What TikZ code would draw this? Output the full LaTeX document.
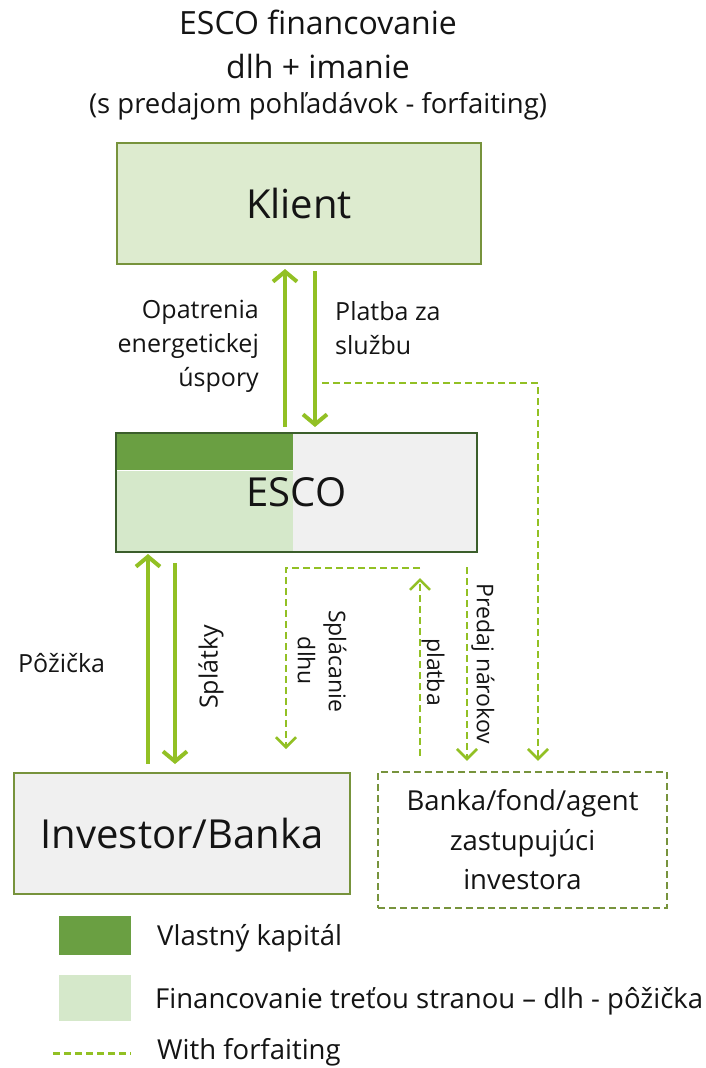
\documentclass[tikz,border=0pt]{standalone}
\usepackage{fontspec}
\setmainfont{Open Sans}
\usetikzlibrary{arrows.meta,calc}
\definecolor{lime}{RGB}{146,192,36}
\definecolor{olive}{RGB}{119,147,60}
\definecolor{darkgreen}{RGB}{59,94,43}
\definecolor{eqdark}{RGB}{106,159,66}
\definecolor{eqlight}{RGB}{213,232,202}
\definecolor{klientfill}{RGB}{221,235,207}
\definecolor{boxgrey}{RGB}{240,240,240}
\definecolor{txt}{RGB}{20,20,20}
\newcommand{\fs}[2]{\fontsize{#1}{#2}\selectfont}
\tikzset{
  bigbox/.style={draw=olive, line width=2pt, minimum width=#1, inner sep=0pt, text=txt, font=\fs{40}{48}},
  bigarrow/.style={draw=lime, line width=4pt, -{Straight Barb[length=10pt,width=24pt,line width=4pt]}},
  dasharrow/.style={draw=lime, line width=2.5pt, dash pattern=on 7pt off 4pt, -{Straight Barb[length=10pt,width=20pt,line width=2.5pt]}},
  dashline/.style={draw=lime, line width=3pt, dash pattern=on 7pt off 4pt},
  lbl/.style={text=txt, font=\fs{25}{34}, inner sep=0pt, align=center},
  rlbl/.style={text=txt, font=\fs{23}{31}, inner sep=0pt, align=center},
  leg/.style={text=txt, font=\fs{27.5}{33}, inner sep=0pt, anchor=west},
}
\begin{document}
\begin{tikzpicture}[x=1pt,y=-1pt]
\useasboundingbox (0,0) rectangle (706,1068);
% title
\node[text=txt, font=\fs{32}{38}, inner sep=0pt] (t1) at (318,22) {ESCO financovanie};
\node[text=txt, font=\fs{32}{38}, inner sep=0pt] (t2) at (318,66) {dlh + imanie};
\node[text=txt, font=\fs{27.5}{33}, inner sep=0pt] (t3) at (318,106) {(s predajom pohľadávok - forfaiting)};
% boxes
\node[bigbox=364pt, minimum height=121pt, fill=klientfill] (klient) at (299,203.5) {Klient};
\node[bigbox=361pt, minimum height=119pt, draw=darkgreen, fill=boxgrey,
  path picture={
    \fill[eqlight] (path picture bounding box.north west) rectangle ([xshift=177pt]path picture bounding box.south west);
    \fill[eqdark] (path picture bounding box.north west) rectangle ([xshift=177pt,yshift=-37pt]path picture bounding box.north west);
    \draw[white, line width=1pt] ([yshift=-37.5pt]path picture bounding box.north west) -- ([xshift=177pt,yshift=-37.5pt]path picture bounding box.north west);
  }] (esco) at (296.5,492.5) {ESCO};
\node[bigbox=336pt, minimum height=121pt, fill=boxgrey] (investor) at (182,833.5) {Investor/Banka};
\node[draw=olive, line width=2.5pt, dash pattern=on 7pt off 4pt, minimum width=289pt, minimum height=136pt, inner sep=0pt, text=txt, font=\fs{27.5}{39.5}, align=center]
  (banka) at (522.5,840) {Banka/fond/agent\\zastupujúci\\investora};
% x positions
\coordinate (xa) at (285,0);
\coordinate (xb) at (315,0);
\coordinate (xc) at (148,0);
\coordinate (xd) at (175,0);
\coordinate (xe) at (286,0);
\coordinate (xf) at (420,0);
\coordinate (xg) at (467,0);
\coordinate (xh) at (538,0);
% main arrows
\draw[bigarrow, shorten <=5pt, shorten >=4pt] (esco.north -| xa) -- (klient.south -| xa);
\draw[bigarrow, shorten <=6pt, shorten >=5pt] (klient.south -| xb) -- (esco.north -| xb);
\draw[bigarrow, shorten <=8pt, shorten >=1pt] (investor.north -| xc) -- (esco.south -| xc);
\draw[bigarrow, shorten <=10pt, shorten >=8pt] (esco.south -| xd) -- (investor.north -| xd);
% dashed connectors
\coordinate (d1) at (322,383);
\coordinate (d2) at (420,568);
\coordinate (d3) at (467,567);
\draw[dasharrow, shorten >=10pt] (d1) -- (d1 -| xh) -- (banka.north -| xh);
\draw[dasharrow, shorten >=23pt] (d2) -- (d2 -| xe) -- (investor.north -| xe);
\draw[dasharrow, shorten <=15pt, shorten >=25pt] (banka.north -| xf) -- (esco.south -| xf);
\draw[dasharrow, shorten >=10pt] (d3) -- (banka.north -| xg);
% labels
\node[lbl, align=right, anchor=east] (l1) at (259,346) {Opatrenia\\energetickej\\úspory};
\node[lbl, align=left, anchor=west] (l2) at (335,328) {Platba za\\službu};
\node[lbl, anchor=west] (l3) at (18,663) {Pôžička};
\node[lbl, rotate=90] (l4) at (211,667) {Splátky};
\node[rlbl, rotate=-90] (l5) at (322,661) {Splácanie\\dlhu};
\node[rlbl, rotate=-90] (l6) at (433,672) {platba};
\node[rlbl, rotate=-90] (l7) at (483,664) {Predaj nárokov};
% legend
\fill[eqdark] (59,916) rectangle (131,955);
\node[leg] (v) at (157,938) {Vlastný kapitál};
\fill[eqlight] (59,975) rectangle (131,1021);
\node[leg] (f) at (155,1001) {Financovanie treťou stranou – dlh - pôžička};
\coordinate (w1) at (53,1053);
\coordinate (w2) at (131,1053);
\draw[dashline] (w1) -- (w2);
\node[leg] (w) at (157,1052) {With forfaiting};
\end{tikzpicture}
\end{document}
